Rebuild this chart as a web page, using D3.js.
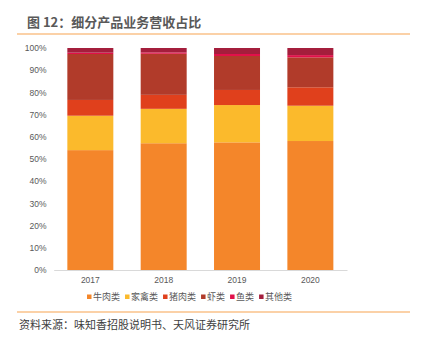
<!DOCTYPE html>
<html><head><meta charset="utf-8">
<script src="https://cdn.jsdelivr.net/npm/d3@7"></script>
<style>
html,body{margin:0;padding:0;background:#fff;}
svg{display:block;}
</style></head>
<body>
<svg id="c" width="422" height="349"></svg>
<script>
const years = ["2017", "2018", "2019", "2020"];
const seriesNames = ["牛肉类", "家禽类", "猪肉类", "虾类", "鱼类", "其他类"];
const beef    = [54.0, 57.1, 57.5, 58.1];
const poultry = [15.5, 15.5, 16.8, 15.9];
const pork    = [7.1, 6.3, 6.8, 8.3];
const shrimp  = [20.7, 18.5, 15.3, 13.5];
const fish    = [0.6, 0.6, 0.9, 1.0];
const others  = [2.1, 2.0, 2.7, 3.2];
const yTicks = [0, 10, 20, 30, 40, 50, 60, 70, 80, 90, 100];
const colors = ["#F4862A", "#FBBA2C", "#E0401C", "#B13B2A", "#E2104A", "#A41E3C"];

const seriesVals = [beef, poultry, pork, shrimp, fish, others];
const rows = years.map((y, i) => {
  const r = {year: y};
  seriesNames.forEach((s, j) => r[s] = seriesVals[j][i]);
  return r;
});
const stacked = d3.stack().keys(seriesNames)(rows);

const svg = d3.select("#c");
const font = "'Noto Sans CJK SC', 'Noto Sans', sans-serif";

// Title
svg.append("text").attr("x", 27).attr("y", 27)
  .attr("font-family", font).attr("font-weight", "bold").attr("font-size", 13)
  .attr("fill", "#595959").text("图 12：细分产品业务营收占比");
svg.append("line").attr("x1", 17).attr("x2", 410).attr("y1", 34).attr("y2", 34)
  .attr("stroke", "#F7A350").attr("stroke-width", 1.2);

const x = d3.scaleBand().domain(years).range([53.7, 347]).paddingInner(0.373).paddingOuter(0.186);
const y = d3.scaleLinear().domain([0, 100]).range([270, 48]);

// bars
const g = svg.append("g");
g.selectAll("g.s").data(stacked).enter().append("g")
  .attr("fill", (d, i) => colors[i])
  .selectAll("rect").data(d => d).enter().append("rect")
  .attr("x", d => x(d.data.year))
  .attr("width", x.bandwidth())
  .attr("y", d => y(d[1]))
  .attr("height", d => y(d[0]) - y(d[1]));

// y axis
const yAxis = d3.axisLeft(y).tickValues(yTicks).tickFormat(d => d + "%").tickSize(0).tickPadding(0);
const ya = svg.append("g").attr("transform", "translate(46.5,0)").call(yAxis);
ya.select(".domain").remove();
ya.selectAll("text").attr("font-family", "'Liberation Sans', Arial, sans-serif").attr("font-size", 8.5).attr("fill", "#595959");

// x axis
const xAxis = d3.axisBottom(x).tickSize(0).tickPadding(7);
const xa = svg.append("g").attr("transform", "translate(0,270)").call(xAxis);
xa.select(".domain").attr("stroke", "#d9d9d9");
xa.selectAll("text").attr("font-family", "'Liberation Sans', Arial, sans-serif").attr("font-size", 8.5).attr("fill", "#595959");

// legend
const leg = svg.append("g");
let lx = 89;
const ly = 297;
seriesNames.forEach((s, i) => {
  leg.append("rect").attr("x", lx - 2).attr("y", ly - 2.5).attr("width", 4.5).attr("height", 4.5).attr("fill", colors[i]);
  const t = leg.append("text").attr("x", lx + 4).attr("y", ly + 3.2)
    .attr("font-family", font).attr("font-size", 9).attr("fill", "#595959").text(s);
  lx += 4 + t.node().getComputedTextLength() + 7;
});

// footer
svg.append("line").attr("x1", 17).attr("x2", 410).attr("y1", 312).attr("y2", 312)
  .attr("stroke", "#F7A350").attr("stroke-width", 1.2);
svg.append("text").attr("x", 19).attr("y", 329)
  .attr("font-family", font).attr("font-size", 11).attr("fill", "#404040")
  .text("资料来源：味知香招股说明书、天风证券研究所");
</script>
</body></html>
